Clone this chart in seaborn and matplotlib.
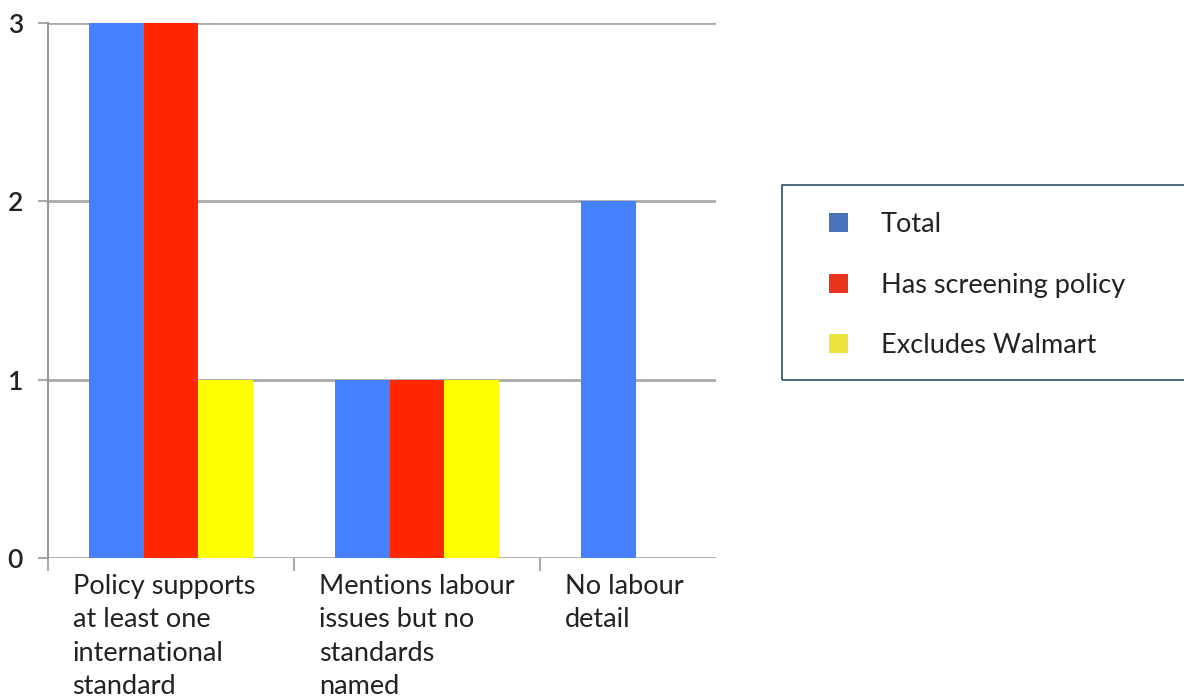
import matplotlib
matplotlib.use("Agg")
import matplotlib.pyplot as plt
import matplotlib.transforms as mtransforms
from matplotlib.patches import Patch, Rectangle
import seaborn as sns
import pandas as pd

categories = ["Policy supports\nat least one\ninternational\nstandard",
              "Mentions labour\nissues but no\nstandards\nnamed",
              "No labour\ndetail"]
series = ["Total", "Has screening policy", "Excludes Walmart"]
total = [3, 1, 2]
screening = [3, 1, 0]
excludes = [1, 1, 0]
yticks = [0, 1, 2, 3]

bar_colors = ["#4580ff", "#ff2600", "#ffff00"]
legend_colors = ["#4a72b8", "#e8341c", "#ece43a"]

rows = []
for i, cat in enumerate(categories):
    for s, vals in zip(series, [total, screening, excludes]):
        rows.append({"category": cat, "series": s, "value": vals[i]})
df = pd.DataFrame(rows)

sns.set_style("white")
plt.rcParams['font.family'] = ['Lato', 'DejaVu Sans']

fig = plt.figure(figsize=(11.84, 6.96), dpi=100)
ax = fig.add_axes([48/1184, 1-558/696, (716-48)/1184, (558-23)/696])

sns.barplot(data=df, x="category", y="value", hue="series", order=categories,
            hue_order=series, palette=bar_colors, saturation=1, width=0.665,
            dodge=True, linewidth=0, errorbar=None, legend=False, ax=ax, zorder=3)

ax.set_ylim(0, 3)
ax.set_xlim(-0.5, 2.215)
ax.set_yticks(yticks)
ax.set_yticklabels([str(v) for v in yticks], fontsize=19, color="#222222",
                   fontweight="semibold")
ax.tick_params(axis="y", length=7, width=1.5, color="#aaaaaa", pad=11, left=True)
ax.grid(axis="y", color="#aaaaaa", linewidth=2, zorder=0)
ax.set_axisbelow(True)
ax.set_xticks([])
ax.set_xticks([-0.5, 0.5, 1.5], minor=True)
ax.tick_params(axis="x", which="minor", length=9, width=1.5, color="#aaaaaa", bottom=True)
ax.set_xlabel("")
ax.set_ylabel("")
for sp in ["top", "right", "bottom"]:
    ax.spines[sp].set_visible(False)
ax.spines["left"].set_color("#999999")
ax.spines["left"].set_linewidth(1.5)

trans = mtransforms.blended_transform_factory(ax.transData, ax.transAxes)
for i, cat in enumerate(categories):
    ax.text(i - 0.5 + 0.1, -0.03, cat, transform=trans, ha="left", va="top",
            fontsize=19.5, color="#222222", linespacing=1.42)

# legend box
fig.patches.append(Rectangle((782/1184, 1-380/696), 0.5, (380-185)/696,
                             transform=fig.transFigure, fill=False,
                             edgecolor="#2f4f6a", linewidth=1.2))
handles = [Patch(facecolor=c, edgecolor="none") for c in legend_colors]
fig.legend(handles, series, loc="upper left",
           bbox_to_anchor=(805/1184, 1-188/696), frameon=False, fontsize=19.5,
           handlelength=0.7, handleheight=0.7, handletextpad=1.2,
           labelspacing=1.3, labelcolor="#222222")

fig.savefig("out.png", dpi=100)
